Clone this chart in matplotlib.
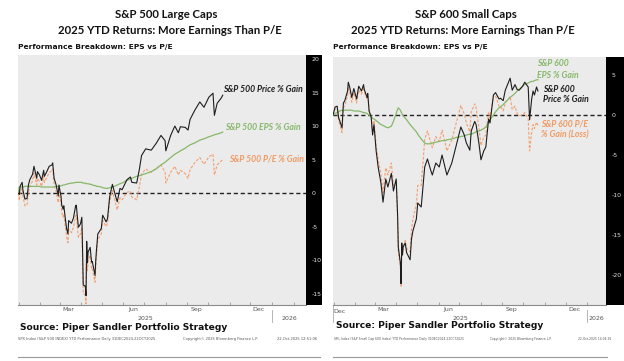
import numpy as np
import matplotlib
matplotlib.use("Agg")
import matplotlib.pyplot as plt
import matplotlib.dates as mdates
import matplotlib.transforms as mtransforms
from matplotlib.patches import Rectangle
from matplotlib.lines import Line2D
from datetime import datetime, timedelta

# ---------------- data (YTD % change, day offsets from 31-Dec-2024) ----------------
days_500 = [0, 2, 3, 6, 7, 10, 13, 15, 17, 21, 23, 27, 28, 31, 34, 37, 38, 41, 45, 49, 50,
            52, 55, 58, 59, 62, 63, 65, 66, 69, 70, 72, 73, 77, 80, 83, 84, 87, 90, 92, 93,
            94, 97, 98, 99, 100, 101, 104, 106, 107, 111, 112, 113, 115, 120, 122, 127, 129,
            132, 136, 141, 143, 147, 150, 157, 162, 164, 171, 175, 178, 184, 192, 199, 206,
            212, 213, 220, 226, 231, 234, 241, 245, 248, 255, 262, 268, 275, 281, 283, 287,
            290, 293, 295]
price_500 = [0.0, -0.2, 1.0, 1.6, 0.5, -0.9, -0.8, 1.2, 2.0, 2.8, 4.0, 2.2, 3.2, 2.7, 1.9, 3.4,
             2.5, 3.1, 4.0, 4.2, 4.5, 2.2, 1.2, -0.4, 1.2, -0.5, -1.8, -2.4, -1.9, -4.5, -5.3,
             -6.1, -4.1, -4.5, -3.7, -1.9, -1.8, -5.1, -4.6, -3.6, -8.2, -13.7, -13.9, -15.3,
             -7.2, -10.4, -8.8, -8.1, -10.3, -10.2, -12.3, -10.1, -8.6, -6.1, -5.3, -3.3, -4.3,
             -3.8, -0.6, 1.3, -0.6, -1.3, 0.7, 0.5, 2.0, 2.4, 1.6, 1.5, 3.6, 5.6, 6.6, 6.4,
             7.4, 8.6, 7.8, 6.3, 8.6, 10.0, 9.0, 9.9, 9.8, 9.4, 11.0, 12.4, 13.6, 12.8, 14.3,
             14.9, 11.6, 13.4, 13.8, 14.2, 14.6]
eps_500 = [0.0, 0.9, 0.9, 0.9, 0.9, 1.0, 1.0, 1.0, 1.0, 1.0, 1.0, 1.0, 1.0, 1.0, 0.9, 0.9,
           0.9, 0.9, 0.9, 0.9, 0.9, 0.9, 1.0, 1.0, 1.0, 1.1, 1.1, 1.2, 1.2, 1.3, 1.3, 1.4,
           1.4, 1.5, 1.5, 1.6, 1.6, 1.6, 1.6, 1.6, 1.5, 1.5, 1.5, 1.4, 1.4, 1.4, 1.4, 1.3,
           1.3, 1.2, 1.1, 1.1, 1.0, 1.0, 0.9, 0.8, 0.7, 0.7, 0.8, 0.9, 1.1, 1.2, 1.4, 1.5,
           1.9, 2.1, 2.2, 2.5, 2.6, 2.7, 2.9, 3.2, 3.6, 4.2, 4.6, 4.7, 5.3, 5.8, 6.1, 6.3,
           6.7, 7.0, 7.2, 7.5, 7.9, 8.1, 8.4, 8.6, 8.7, 8.8, 8.9, 9.0, 9.1]
pe_500 = [0.0, -1.1, 0.1, 0.7, -0.4, -1.9, -1.8, 0.2, 1.0, 1.8, 3.0, 1.2, 2.2, 1.7, 1.0, 2.5,
          1.6, 2.2, 3.1, 3.3, 3.6, 1.3, 0.2, -1.4, 0.2, -1.6, -2.9, -3.6, -3.1, -5.7, -6.5,
          -7.4, -5.4, -5.9, -5.1, -3.4, -3.3, -6.6, -6.1, -5.1, -9.6, -15.0, -15.2, -16.5,
          -8.5, -11.6, -10.1, -9.3, -11.4, -11.3, -13.3, -11.1, -9.5, -7.0, -6.1, -4.1, -5.0,
          -4.5, -1.4, 0.4, -1.7, -2.5, -0.7, -1.0, 0.1, 0.3, -0.6, -1.0, 1.0, 2.8, 3.6, 3.1,
          3.7, 4.2, 3.1, 1.5, 3.1, 4.0, 2.7, 3.4, 2.9, 2.2, 3.5, 4.6, 5.3, 4.3, 5.4, 5.8, 2.7,
          4.2, 4.5, 4.8, 5.0]

days_600 = [0, 3, 6, 8, 10, 13, 15, 17, 21, 22, 24, 27, 30, 34, 37, 41, 44, 45, 49, 50, 52,
            55, 57, 59, 62, 65, 69, 72, 76, 79, 84, 87, 91, 93, 94, 97, 98, 99, 100, 101, 104,
            106, 111, 113, 115, 120, 122, 127, 132, 134, 136, 141, 143, 148, 153, 157, 162,
            164, 171, 178, 184, 189, 192, 197, 199, 204, 206, 210, 213, 217, 220, 224, 226,
            231, 234, 239, 241, 245, 248, 255, 258, 262, 265, 268, 273, 276, 281, 283, 286,
            288, 290, 293, 295]
price_600 = [0.0, 1.0, 1.1, -0.3, -0.8, -1.6, 1.5, 1.8, 3.0, 4.1, 3.5, 2.2, 3.3, 2.0, 3.6,
             3.0, 3.8, 3.2, 2.2, 2.7, 0.5, -0.3, -2.5, -1.2, -4.4, -6.5, -8.5, -10.9, -8.0,
             -9.0, -7.3, -9.5, -8.0, -12.5, -16.5, -18.5, -21.1, -16.0, -17.5, -16.5, -16.0,
             -17.2, -18.1, -15.5, -14.5, -13.0, -11.0, -11.5, -6.5, -6.0, -5.5, -7.0, -7.5,
             -6.0, -6.5, -5.0, -6.8, -7.5, -6.0, -3.6, -1.5, -2.5, -3.5, -4.4, -2.0, -0.8,
             -1.2, -3.5, -5.6, -4.5, -4.0, -0.5, -1.0, 2.5, 2.8, 2.0, 2.1, 1.8, 3.1, 4.6, 3.1,
             3.8, 3.2, 3.1, 3.6, 4.1, 3.5, -0.6, 2.0, 3.0, 2.5, 3.5, 3.0]
eps_600 = [0.0, 0.2, 0.3, 0.4, 0.5, 0.6, 0.6, 0.6, 0.6, 0.6, 0.6, 0.6, 0.5, 0.5, 0.5, 0.4,
           0.3, 0.3, 0.2, 0.1, 0.0, -0.2, -0.4, -0.5, -0.7, -0.9, -1.2, -1.3, -1.5, -1.6,
           -1.4, -0.8, 0.2, 0.7, 0.9, 0.6, 0.4, 0.2, 0.0, -0.1, -0.4, -0.6, -1.2, -1.4, -1.6,
           -2.1, -2.4, -3.0, -3.5, -3.6, -3.6, -3.6, -3.5, -3.4, -3.3, -3.2, -3.2, -3.1,
           -3.0, -2.8, -2.7, -2.6, -2.5, -2.4, -2.4, -2.2, -2.1, -2.0, -1.9, -1.7, -1.5,
           -0.9, -0.6, 0.0, 0.4, 0.9, 1.0, 1.3, 1.6, 2.2, 2.4, 2.7, 3.0, 3.2, 3.6, 3.8, 4.0,
           4.1, 4.2, 4.2, 4.3, 4.4, 4.4]
pe_600 = [0.0, 0.8, 0.8, -0.7, -1.3, -2.2, 0.9, 1.2, 2.4, 3.5, 2.9, 1.6, 2.8, 1.5, 3.1, 2.6,
          3.5, 2.9, 2.0, 2.6, 0.5, -0.1, -2.1, -0.7, -3.7, -5.6, -7.3, -9.7, -6.6, -7.5,
          -6.0, -8.8, -8.2, -13.1, -17.2, -19.0, -21.4, -16.2, -17.5, -16.4, -15.7, -16.7,
          -17.1, -14.3, -13.1, -11.1, -8.8, -8.8, -3.1, -2.5, -2.0, -3.5, -4.1, -2.7, -3.3,
          -1.9, -3.7, -4.5, -3.1, -0.8, 1.2, 0.1, -1.0, -2.1, 0.4, 1.4, 0.9, -1.5, -3.8,
          -2.8, -2.5, 0.4, -0.4, 2.5, 2.4, 1.1, 1.1, 0.5, 1.5, 2.3, 0.7, 1.1, 0.2, -0.1, 0.0,
          0.3, -0.5, -4.5, -2.1, -1.2, -1.7, -0.9, -1.3]

yticks_500 = [-15, -10, -5, 0, 5, 10, 15, 20]
yticks_600 = [-20, -15, -10, -5, 0, 5]
month_labels = ["Mar", "Jun", "Sep", "Dec"]

# ---------------- styling ----------------
W, H = 624, 361
BG = "#ebebeb"
C_PRICE = "#1e1e1e"
C_EPS = "#86b86a"
C_PE = "#f2a070"
C_PE_TXT = "#ef9a62"
TITLE_FONT = ["Lato", "DejaVu Sans"]
LABEL_FONT = ["Lato", "DejaVu Sans"]

fig = plt.figure(figsize=(W / 100, H / 100), dpi=100)
fig.patch.set_facecolor("white")

base = datetime(2024, 12, 31)


def to_dates(days):
    return [base + timedelta(days=int(d)) for d in days]


def px_axes(x0, y0, x1, y1):
    return fig.add_axes([x0 / W, 1 - y1 / H, (x1 - x0) / W, (y1 - y0) / H])


def ftext(x, y, s, **kw):
    fig.text(x / W, 1 - y / H, s, **kw)


def black_strip(x0, y0, x1, y1):
    fig.patches.append(Rectangle((x0 / W, 1 - y1 / H), (x1 - x0) / W, (y1 - y0) / H,
                                 transform=fig.transFigure, facecolor="black",
                                 edgecolor="none", zorder=-1))


def panel(box, days, price, eps, pe, ylim, yticks, xend, first_dec):
    x0, y0, x1, y1 = box
    ax = px_axes(x0, y0, x1, y1)
    ax.set_facecolor(BG)
    d = to_dates(days)
    ax.axhline(0, color="#222222", lw=1.0, dashes=(3, 2), zorder=2)
    ax.plot(d, pe, color=C_PE, lw=0.8, dashes=(2.5, 1.5), zorder=3)
    ax.plot(d, eps, color=C_EPS, lw=0.9, zorder=4)
    ax.plot(d, price, color=C_PRICE, lw=0.8, zorder=5)
    ax.set_xlim(base, base + timedelta(days=xend))
    ax.set_ylim(*ylim)
    for s in ["top", "left", "right"]:
        ax.spines[s].set_visible(False)
    ax.spines["bottom"].set_color("#8a8a8a")
    ax.spines["bottom"].set_linewidth(0.8)
    ax.yaxis.tick_right()
    ax.set_yticks(yticks)
    ax.set_yticklabels([str(t) for t in yticks])
    ax.tick_params(axis="y", length=0, pad=4, labelsize=4.5, labelcolor="#e0e0e0")
    # month tick marks
    ax.xaxis.set_minor_locator(mdates.MonthLocator())
    ax.tick_params(axis="x", which="minor", direction="in", length=2, width=0.5,
                   color="#8a8a8a")
    mids = [datetime(2025, 3, 14), datetime(2025, 6, 15), datetime(2025, 9, 14),
            datetime(2025, 12, 13)]
    ax.set_xticks(mids)
    ax.set_xticklabels(month_labels)
    ax.tick_params(axis="x", which="major", length=0, pad=1.5, labelsize=4.5,
                   labelcolor="#555555")
    tr = mtransforms.blended_transform_factory(ax.transData, ax.transAxes)
    h = y1 - y0
    if first_dec:
        ax.text(base, -(310 - y1) / h - 0.005, "Dec", transform=tr, ha="left", va="center",
                fontsize=4.5, color="#555555")
        ax.plot([base, base], [0, -(322 - y1) / h], transform=tr, color="#aaaaaa",
                lw=0.6, clip_on=False)
    ax.text(datetime(2025, 7, 2), -(318 - y1) / h, "2025", transform=tr, ha="center",
            va="center", fontsize=4.5, color="#555555")
    end = base + timedelta(days=xend)
    j26 = datetime(2026, 1, 1)
    mid26 = j26 + (end - j26) / 2
    ax.text(mid26, -(318 - y1) / h, "2026", transform=tr, ha="center", va="center",
            fontsize=4.5, color="#555555")
    ax.plot([j26, j26], [-(310 - y1) / h, -(322 - y1) / h], transform=tr,
            color="#aaaaaa", lw=0.6, clip_on=False)
    return ax


# ---------------- left panel ----------------
black_strip(306, 55, 322, 305)
axL = panel((18, 55, 306, 305), days_500, price_500, eps_500, pe_500,
            (-16.7, 20.6), yticks_500, 415, False)
# ---------------- right panel ----------------
black_strip(606, 57, 624, 305)
axR = panel((333, 57, 606, 305), days_600, price_600, eps_600, pe_600,
            (-23.75, 7.25), yticks_600, 393, True)

# ---------------- titles ----------------
ftext(166, 15, "S&P 500 Large Caps", ha="center", va="center", fontsize=8.2,
      fontweight="bold", family=TITLE_FONT, color="#111111")
ftext(170, 31, "2025 YTD Returns: More Earnings Than P/E", ha="center", va="center",
      fontsize=8.2, fontweight="bold", family=TITLE_FONT, color="#111111")
ftext(466, 15, "S&P 600 Small Caps", ha="center", va="center", fontsize=8.2,
      fontweight="bold", family=TITLE_FONT, color="#111111")
ftext(463, 31, "2025 YTD Returns: More Earnings Than P/E", ha="center", va="center",
      fontsize=8.2, fontweight="bold", family=TITLE_FONT, color="#111111")

ftext(18, 47, "Performance Breakdown: EPS vs P/E", ha="left", va="center", fontsize=5.4,
      fontweight="bold", color="#111111")
ftext(333, 47, "Performance Breakdown: EPS vs P/E", ha="left", va="center", fontsize=5.4,
      fontweight="bold", color="#111111")

# ---------------- series labels ----------------
lab = dict(fontsize=6.2, fontweight="bold", style="italic", family=LABEL_FONT, va="center")
ftext(223, 90, "S&P 500 Price % Gain", ha="left", color=C_PRICE, **lab)
ftext(225, 127, "S&P 500 EPS % Gain", ha="left", color=C_EPS, **lab)
ftext(229, 159, "S&P 500 P/E % Gain", ha="left", color=C_PE_TXT, **lab)

ftext(537, 64, "S&P 600", ha="left", color=C_EPS, **lab)
ftext(537, 75, "EPS % Gain", ha="left", color=C_EPS, **lab)
ftext(543, 89, "S&P 600", ha="left", color=C_PRICE, **lab)
ftext(543, 100, "Price % Gain", ha="left", color=C_PRICE, **lab)
ftext(541, 124, "S&P 600 P/E", ha="left", color=C_PE_TXT, **lab)
ftext(541, 135, "% Gain (Loss)", ha="left", color=C_PE_TXT, **lab)

# ---------------- footer ----------------
ftext(20, 327, "Source: Piper Sandler Portfolio Strategy", ha="left", va="center",
      fontsize=6.6, fontweight="bold", color="#111111")
ftext(336, 326, "Source: Piper Sandler Portfolio Strategy", ha="left", va="center",
      fontsize=6.6, fontweight="bold", color="#111111")
tiny = dict(fontsize=2.6, color="#555555", va="center")
ftext(18, 339, "SPX Index (S&P 500 INDEX) YTD Performance Daily 31DEC2024-22OCT2025",
      ha="left", **tiny)
ftext(183, 339, "Copyright\u00a9 2025 Bloomberg Finance L.P.", ha="left", **tiny)
ftext(277, 339, "22-Oct-2025 12:51:06", ha="left", **tiny)
tiny2 = dict(fontsize=2.2, color="#555555", va="center")
ftext(334, 339, "SML Index (S&P Small Cap 600 Index) YTD Performance Daily "
      "31DEC2024-22OCT2025", ha="left", **tiny2)
ftext(490, 339, "Copyright\u00a9 2025 Bloomberg Finance L.P.", ha="left", **tiny2)
ftext(578, 339, "22-Oct-2025 14:04:16", ha="left", **tiny2)

fig.lines.append(Line2D([18 / W, 320 / W], [1 - 357 / H, 1 - 357 / H],
                        transform=fig.transFigure, color="#999999", lw=0.8))
fig.lines.append(Line2D([333 / W, 607 / W], [1 - 357 / H, 1 - 357 / H],
                        transform=fig.transFigure, color="#999999", lw=0.8))

fig.savefig("out.png", dpi=100, facecolor="white")
